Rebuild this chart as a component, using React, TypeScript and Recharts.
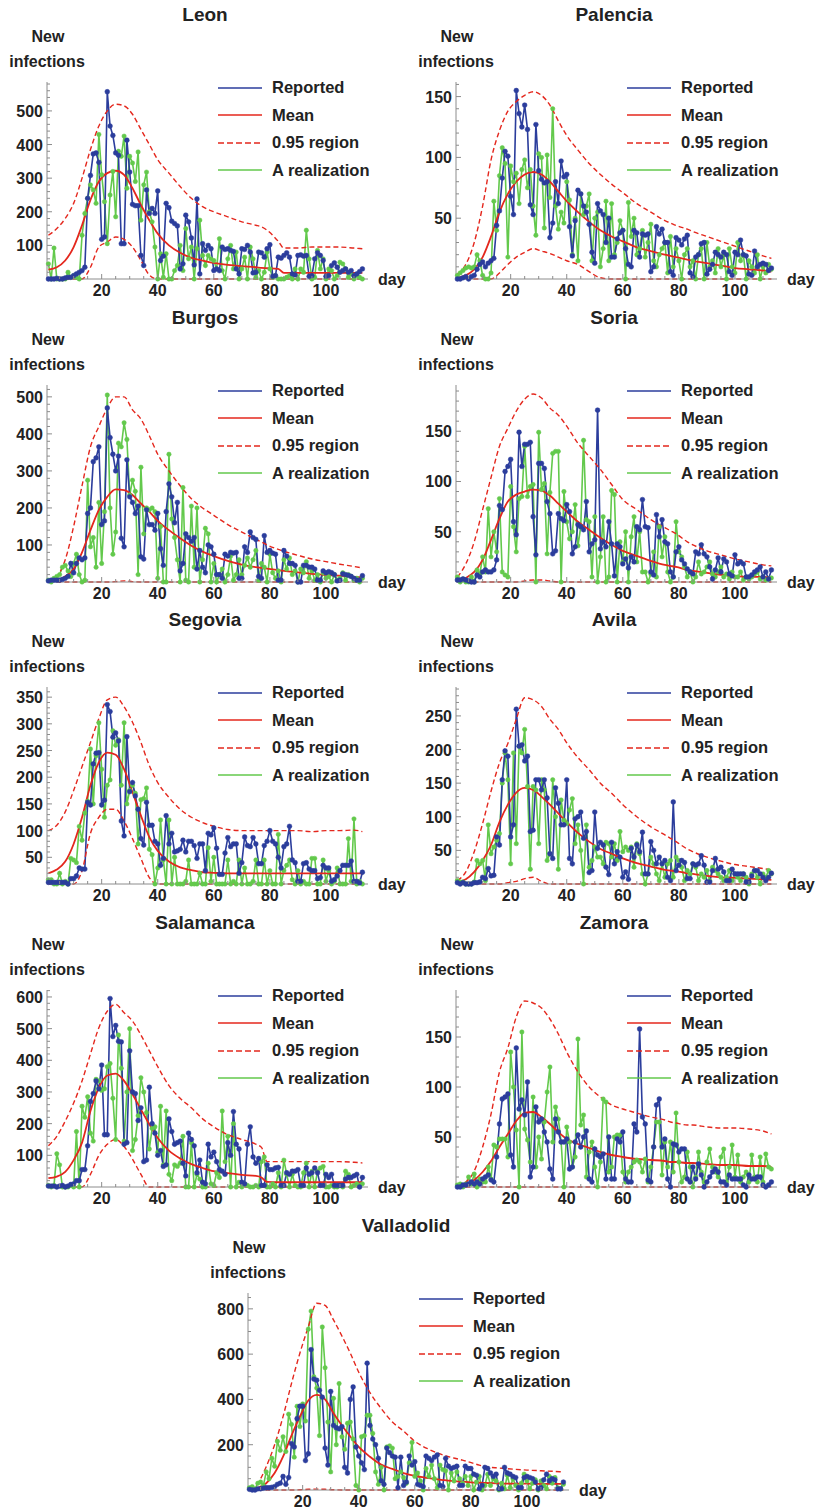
import React from "react";
import { LineChart, Line, XAxis, YAxis, Legend } from "recharts";

const FONT = '"Liberation Sans", Arial, Helvetica, sans-serif';
const BLUE = "#2b3d9c";
const RED = "#e4271d";
const GREEN = "#63c94c";
const AXIS = "#8c8c8c";
const TEXT = "#222222";

// days for the smooth model curves (mean and 0.95 band)
const CURVE_DAYS = [1, 4, 7, 10, 13, 16, 19, 22, 25, 28, 31, 34, 37, 40, 44, 48, 52, 56, 60, 65, 70, 75, 77, 79, 83, 85, 90, 95, 100, 105, 110, 113];
const X_TICKS = [5, 10, 15, 20, 25, 30, 35, 40, 45, 50, 55, 60, 65, 70, 75, 80, 85, 90, 95, 100, 105, 110];

// ---- Leon ----
const LEON_REPORTED = [
  0, 0, 0, 2, 0, 0, 3, 5, 5, 10,
  15, 20, 25, 35, 240, 308, 372, 375, 347, 118,
  125, 557, 455, 427, 375, 368, 105, 105, 413, 318,
  222, 218, 218, 70, 40, 265, 195, 210, 195, 262,
  55, 68, 225, 212, 172, 165, 158, 30, 45, 190,
  170, 122, 42, 238, 15, 105, 85, 100, 90, 25,
  30, 25, 95, 88, 90, 85, 82, 30, 15, 90,
  88, 100, 80, 18, 20, 80, 78, 65, 90, 102,
  8, 10, 65, 62, 70, 78, 65, 15, 12, 70,
  72, 68, 70, 8, 10, 60, 78, 70, 55, 8,
  10, 40, 48, 35, 20, 25, 30, 20, 25, 10,
  15, 22, 30,
];
const LEON_REALIZATION = [
  45, 0, 92, 0, 0, 0, 0, 20, 5, 10,
  5, 0, 130, 195, 240, 280, 265, 225, 430, 310,
  230, 105, 250, 320, 185, 380, 365, 425, 270, 365,
  345, 290, 378, 175, 280, 318, 200, 170, 95, 0,
  75, 5, 75, 0, 0, 25, 40, 100, 25, 150,
  60, 95, 0, 90, 175, 70, 40, 70, 60, 55,
  30, 120, 25, 0, 60, 100, 30, 80, 0, 30,
  65, 0, 95, 60, 5, 25, 0, 20, 80, 30,
  5, 10, 0, 0, 0, 5, 10, 0, 30, 0,
  30, 20, 145, 60, 0, 5, 85, 30, 60, 0,
  30, 25, 0, 10, 50, 45, 30, 5, 15, 0,
  10, 5, 0,
];
const LEON_MEAN = [28, 35, 55, 95, 160, 235, 290, 315, 322, 310, 270, 220, 175, 135, 100, 78, 63, 55, 48, 42, 38, 35, 33, 32, 30, 18, 18, 18, 18, 18, 18, 18];
const LEON_UPPER = [130, 150, 180, 225, 300, 385, 455, 500, 520, 515, 490, 445, 400, 355, 315, 275, 240, 215, 200, 185, 170, 160, 155, 145, 112, 92, 92, 95, 95, 95, 92, 90];
const LEON_LOWER = [0, 0, 0, 0, 0, 35, 95, 110, 125, 118, 95, 55, 12, 0, 0, 0, 0, 0, 0, 0, 0, 0, 0, 0, 0, 0, 0, 0, 0, 0, 0, 0];

// ---- Palencia ----
const PALENCIA_REPORTED = [
  0, 0, 1, 2, 0, 2, 3, 8, 12, 14,
  10, 13, 15, 17, 44, 56, 83, 105, 101, 68,
  53, 155, 136, 125, 143, 123, 61, 53, 127, 89,
  82, 79, 80, 34, 46, 80, 62, 97, 84, 86,
  43, 19, 48, 73, 70, 60, 55, 45, 22, 13,
  62, 56, 53, 30, 50, 18, 18, 33, 38, 40,
  25, 12, 10, 40, 38, 18, 37, 36, 37, 6,
  10, 43, 37, 41, 30, 30, 6, 3, 34, 32,
  28, 33, 36, 5, 2, 18, 20, 29, 30, 4,
  8, 12, 22, 20, 18, 22, 20, 6, 3, 22,
  20, 32, 20, 19, 4, 3, 23, 10, 12, 13,
  12, 7, 9,
];
const PALENCIA_REALIZATION = [
  3, 5, 7, 9, 10, 9, 10, 20, 15, 3,
  0, 0, 5, 64, 40, 85, 108, 95, 18, 93,
  80, 87, 62, 90, 98, 75, 90, 60, 36, 103,
  100, 42, 102, 67, 140, 60, 41, 55, 46, 80,
  65, 20, 50, 15, 70, 53, 60, 70, 15, 50,
  55, 10, 25, 64, 15, 62, 20, 30, 48, 40,
  0, 63, 35, 50, 20, 25, 40, 18, 30, 45,
  15, 10, 20, 25, 30, 5, 35, 10, 25, 15,
  0, 20, 25, 10, 15, 0, 20, 25, 0, 30,
  10, 15, 5, 25, 10, 20, 0, 25, 10, 5,
  30, 15, 20, 0, 15, 10, 5, 20, 0, 10,
  5, 12, 8,
];
const PALENCIA_MEAN = [1, 3, 8, 18, 35, 55, 70, 80, 86, 88, 86, 80, 72, 64, 55, 47, 40, 35, 31, 26, 23, 20, 19, 18, 16, 15, 13, 11, 9, 8, 7, 6];
const PALENCIA_UPPER = [4, 12, 30, 60, 98, 122, 138, 146, 151, 154, 151, 143, 130, 118, 106, 95, 86, 78, 71, 62, 55, 48, 46, 44, 41, 39, 35, 31, 27, 23, 19, 17];
const PALENCIA_LOWER = [0, 0, 0, 0, 0, 5, 12, 18, 22, 25, 23, 21, 18, 15, 12, 6, 1, 0, 0, 0, 0, 0, 0, 0, 0, 0, 0, 0, 0, 0, 0, 0];

// ---- Burgos ----
const BURGOS_REPORTED = [
  3, 5, 5, 5, 5, 7, 10, 15, 50, 25,
  50, 65, 60, 65, 185, 200, 325, 335, 365, 155,
  165, 470, 390, 345, 300, 340, 118, 95, 330, 230,
  215, 185, 205, 68, 62, 195, 155, 155, 140, 185,
  90, 45, 190, 265, 230, 160, 215, 30, 50, 130,
  120, 110, 120, 35, 85, 40, 25, 100, 95, 75,
  20, 20, 10, 75, 70, 80, 78, 80, 10, 10,
  95, 80, 135, 120, 115, 15, 10, 125, 80, 85,
  78, 75, 5, 5, 85, 70, 50, 50, 45, 0,
  0, 45, 45, 40, 40, 35, 5, 5, 30, 25,
  28, 25, 20, 3, 5, 22, 20, 18, 15, 10,
  5, 5, 17,
];
const BURGOS_REALIZATION = [
  5, 0, 10, 15, 20, 40, 45, 30, 15, 50,
  75, 20, 0, 5, 275, 95, 120, 40, 215, 50,
  190, 505, 200, 75, 135, 375, 365, 430, 385, 235,
  275, 245, 20, 310, 130, 200, 195, 200, 190, 10,
  150, 0, 0, 345, 170, 120, 60, 0, 255, 5,
  0, 205, 40, 200, 0, 60, 145, 130, 0, 50,
  0, 20, 35, 0, 20, 70, 5, 20, 60, 20,
  45, 65, 40, 60, 85, 5, 50, 40, 0, 75,
  25, 10, 30, 0, 60, 35, 65, 20, 30, 0,
  35, 25, 55, 10, 30, 5, 20, 0, 25, 10,
  15, 0, 20, 5, 10, 25, 5, 20, 15, 5,
  10, 0, 10,
];
const BURGOS_MEAN = [2, 5, 15, 35, 80, 140, 195, 230, 250, 248, 235, 212, 190, 165, 140, 118, 98, 82, 70, 57, 47, 40, 38, 36, 32, 30, 26, 22, 19, 17, 14, 13];
const BURGOS_UPPER = [3, 15, 60, 150, 260, 365, 420, 470, 500, 500, 465, 440, 395, 345, 300, 260, 225, 200, 180, 155, 135, 115, 108, 100, 88, 83, 72, 62, 55, 48, 42, 38];
const BURGOS_LOWER = [0, 0, 0, 0, 0, 0, 0, 0, 1, 3, 1, 0, 0, 0, 0, 0, 0, 0, 0, 0, 0, 0, 0, 0, 0, 0, 0, 0, 0, 0, 0, 0];

// ---- Soria ----
const SORIA_REPORTED = [
  2, 2, 3, 2, 1, 0, 0, 7, 5, 10,
  12, 10, 10, 12, 22, 76, 72, 110, 115, 122,
  60, 47, 149, 115, 137, 137, 139, 65, 27, 118,
  118, 113, 80, 68, 28, 31, 68, 63, 61, 77,
  70, 28, 35, 57, 55, 52, 80, 30, 38, 42,
  171, 33, 40, 35, 60, 38, 6, 38, 35, 18,
  23, 14, 25, 20, 55, 52, 82, 55, 54, 10,
  7, 67, 45, 62, 40, 38, 10, 5, 30, 35,
  22, 18, 13, 10, 8, 30, 28, 37, 28, 25,
  15, 3, 12, 24, 10, 23, 20, 8, 6, 27,
  18, 20, 18, 5, 5, 7, 10, 12, 15, 5,
  10, 3, 12,
];
const SORIA_REALIZATION = [
  5, 0, 3, 0, 0, 5, 0, 12, 8, 25,
  10, 73, 25, 50, 30, 83, 10, 7, 5, 95,
  55, 30, 83, 85, 135, 85, 95, 97, 0, 149,
  92, 98, 28, 89, 128, 130, 130, 0, 90, 60,
  43, 50, 77, 36, 55, 141, 62, 60, 5, 65,
  0, 25, 65, 0, 5, 91, 87, 0, 40, 20,
  50, 0, 45, 65, 20, 50, 10, 10, 0, 8,
  30, 5, 55, 25, 45, 10, 0, 5, 60, 30,
  25, 15, 5, 10, 0, 5, 20, 8, 10, 15,
  20, 8, 5, 10, 15, 5, 8, 3, 10, 5,
  5, 10, 2, 5, 3, 5, 8, 10, 3, 5,
  2, 3, 4,
];
const SORIA_MEAN = [1, 4, 10, 22, 42, 63, 80, 87, 90, 92, 91, 86, 78, 70, 60, 52, 44, 37, 31, 26, 21, 17, 16, 15, 12, 11, 9, 7, 6, 5, 5, 4];
const SORIA_UPPER = [5, 18, 40, 72, 104, 135, 153, 170, 182, 187, 183, 173, 166, 155, 138, 125, 112, 97, 82, 72, 62, 54, 51, 48, 40, 37, 31, 27, 23, 20, 17, 16];
const SORIA_LOWER = [0, 0, 0, 0, 0, 0, 0, 0, 1, 2, 2, 1, 0, 0, 0, 0, 0, 0, 0, 0, 0, 0, 0, 0, 0, 0, 0, 0, 0, 0, 0, 0];

// ---- Segovia ----
const SEGOVIA_REPORTED = [
  3, 3, 3, 3, 3, 3, 3, 0, 10, 10,
  15, 30, 28, 28, 153, 148, 225, 245, 246, 148,
  157, 336, 323, 275, 283, 268, 118, 90, 276, 173,
  190, 165, 140, 85, 73, 153, 110, 110, 80, 75,
  35, 48, 128, 75, 95, 60, 62, 65, 82, 60,
  80, 80, 72, 48, 75, 75, 25, 95, 92, 105,
  67, 18, 18, 58, 87, 70, 75, 75, 20, 40,
  88, 72, 70, 87, 75, 38, 38, 72, 80, 100,
  80, 75, 50, 30, 70, 75, 108, 45, 40, 5,
  5, 38, 40, 28, 25, 25, 10, 12, 35, 30,
  30, 5, 8, 15, 25, 35, 35, 35, 43, 5,
  5, 2, 22,
];
const SEGOVIA_REALIZATION = [
  8, 8, 0, 0, 20, 0, 5, 0, 48, 45,
  40, 108, 82, 133, 155, 253, 150, 240, 302, 215,
  125, 185, 195, 287, 260, 270, 185, 302, 150, 175,
  185, 170, 75, 158, 160, 180, 65, 55, 0, 30,
  120, 45, 0, 120, 0, 50, 0, 0, 0, 5,
  45, 0, 0, 0, 20, 0, 0, 68, 5, 50,
  0, 0, 0, 0, 45, 0, 5, 0, 45, 0,
  30, 0, 0, 5, 45, 0, 0, 45, 0, 25,
  0, 0, 93, 0, 25, 35, 45, 8, 0, 25,
  0, 5, 0, 0, 48, 48, 0, 0, 45, 5,
  25, 0, 5, 30, 0, 0, 0, 85, 5, 122,
  0, 5, 0,
];
const SEGOVIA_MEAN = [20, 27, 42, 75, 125, 185, 228, 246, 242, 215, 172, 128, 88, 62, 42, 31, 26, 22, 21, 20, 20, 20, 20, 20, 20, 20, 20, 20, 20, 20, 20, 20];
const SEGOVIA_UPPER = [100, 110, 135, 175, 220, 265, 310, 345, 350, 332, 303, 265, 222, 190, 162, 140, 125, 115, 108, 102, 100, 100, 100, 100, 100, 100, 100, 98, 100, 100, 101, 98];
const SEGOVIA_LOWER = [0, 0, 0, 0, 25, 95, 125, 140, 140, 118, 85, 48, 12, 0, 0, 0, 0, 0, 0, 0, 0, 0, 0, 0, 0, 0, 0, 0, 0, 0, 0, 0];

// ---- Avila ----
const AVILA_REPORTED = [
  2, 0, 2, 0, 0, 0, 2, 2, 3, 10,
  8, 23, 12, 13, 70, 58, 155, 198, 190, 70,
  88, 260, 205, 207, 183, 190, 78, 80, 155, 155,
  140, 155, 128, 45, 38, 143, 120, 88, 88, 155,
  38, 30, 97, 100, 107, 68, 78, 17, 20, 107,
  53, 62, 58, 25, 14, 62, 30, 48, 40, 10,
  18, 7, 53, 40, 58, 48, 77, 15, 15, 63,
  50, 30, 40, 30, 35, 10, 5, 122, 20, 28,
  35, 32, 8, 8, 30, 28, 30, 42, 28, 3,
  3, 20, 38, 22, 25, 18, 5, 5, 22, 15,
  15, 15, 15, 3, 3, 12, 20, 20, 15, 10,
  5, 10, 16,
];
const AVILA_REALIZATION = [
  5, 3, 3, 0, 0, 0, 3, 35, 30, 35,
  5, 88, 45, 55, 65, 75, 150, 195, 155, 30,
  195, 60, 205, 195, 230, 145, 22, 145, 140, 60,
  155, 140, 35, 45, 155, 100, 22, 125, 95, 90,
  110, 127, 60, 88, 50, 0, 88, 25, 35, 55,
  40, 40, 30, 62, 60, 40, 60, 35, 78, 48,
  55, 50, 55, 25, 60, 45, 15, 0, 15, 40,
  30, 15, 5, 30, 10, 30, 35, 10, 40, 35,
  25, 5, 20, 15, 30, 25, 5, 15, 10, 20,
  5, 25, 20, 15, 10, 5, 10, 20, 5, 15,
  10, 5, 15, 10, 0, 15, 20, 10, 0, 15,
  10, 20, 15,
];
const AVILA_MEAN = [3, 7, 18, 35, 58, 92, 118, 136, 143, 140, 130, 118, 105, 92, 76, 63, 52, 45, 38, 31, 26, 21, 20, 19, 16, 15, 12, 10, 9, 8, 7, 6];
const AVILA_UPPER = [5, 18, 48, 90, 138, 180, 209, 245, 277, 274, 264, 245, 230, 210, 188, 170, 150, 135, 118, 100, 85, 73, 68, 63, 52, 48, 40, 34, 29, 26, 23, 21];
const AVILA_LOWER = [0, 0, 0, 0, 0, 0, 2, 4, 8, 10, 4, 0, 0, 0, 0, 0, 0, 0, 0, 0, 0, 0, 0, 0, 0, 0, 0, 0, 0, 0, 0, 0];

// ---- Salamanca ----
const SALAMANCA_REPORTED = [
  3, 3, 3, 0, 3, 5, 0, 3, 8, 10,
  20, 20, 55, 55, 130, 270, 295, 335, 310, 385,
  165, 165, 595, 475, 510, 460, 458, 135, 140, 430,
  300, 295, 210, 250, 80, 85, 315, 200, 170, 100,
  115, 65, 70, 215, 175, 135, 140, 145, 75, 35,
  170, 150, 130, 45, 85, 15, 10, 135, 95, 110,
  80, 55, 50, 40, 140, 100, 238, 135, 120, 15,
  10, 135, 190, 95, 75, 90, 5, 5, 70, 55,
  55, 60, 62, 5, 5, 45, 40, 50, 50, 55,
  5, 5, 60, 40, 45, 60, 45, 5, 5, 40,
  30, 40, 5, 5, 5, 5, 25, 30, 30, 35,
  40, 0, 30,
];
const SALAMANCA_REALIZATION = [
  5, 0, 5, 105, 70, 0, 0, 0, 5, 0,
  175, 0, 255, 220, 285, 170, 145, 340, 335, 305,
  310, 380, 390, 280, 150, 480, 375, 145, 300, 500,
  115, 150, 225, 345, 300, 235, 120, 185, 190, 110,
  255, 70, 240, 40, 20, 70, 65, 75, 160, 0,
  0, 140, 0, 40, 25, 0, 0, 75, 10, 5,
  45, 30, 240, 80, 160, 0, 200, 0, 15, 0,
  10, 5, 0, 0, 5, 0, 80, 95, 0, 0,
  10, 0, 45, 0, 85, 40, 0, 40, 5, 0,
  0, 45, 75, 0, 50, 0, 50, 60, 65, 0,
  0, 5, 0, 0, 5, 0, 50, 40, 0, 5,
  10, 5, 10,
];
const SALAMANCA_MEAN = [28, 33, 48, 85, 140, 240, 314, 352, 358, 335, 293, 245, 198, 155, 115, 90, 72, 60, 50, 44, 38, 35, 30, 16, 15, 15, 15, 15, 15, 15, 15, 15];
const SALAMANCA_UPPER = [130, 160, 208, 265, 335, 420, 503, 555, 577, 550, 524, 480, 430, 380, 320, 280, 250, 215, 190, 165, 150, 135, 125, 80, 80, 80, 80, 80, 80, 80, 78, 76];
const SALAMANCA_LOWER = [0, 0, 0, 0, 0, 40, 100, 135, 150, 128, 88, 40, 0, 0, 0, 0, 0, 0, 0, 0, 0, 0, 0, 0, 0, 0, 0, 0, 0, 0, 0, 0];

// ---- Zamora ----
const ZAMORA_REPORTED = [
  0, 0, 2, 2, 3, 5, 3, 5, 3, 8,
  10, 12, 7, 5, 30, 63, 88, 90, 93, 32,
  20, 139, 78, 87, 72, 105, 10, 20, 80, 65,
  68, 55, 45, 18, 8, 68, 55, 45, 45, 48,
  18, 20, 45, 52, 40, 50, 56, 8, 5, 38,
  32, 30, 33, 8, 50, 8, 8, 48, 45, 55,
  8, 5, 5, 63, 55, 158, 70, 63, 7, 5,
  40, 82, 88, 40, 48, 8, 0, 43, 42, 35,
  38, 38, 8, 5, 20, 8, 23, 12, 0, 5,
  10, 15, 18, 15, 5, 5, 2, 12, 8, 8,
  8, 8, 2, 0, 12, 8, 8, 10, 10, 2,
  0, 2, 5,
];
const ZAMORA_REALIZATION = [
  2, 3, 0, 3, 10, 3, 13, 0, 8, 5,
  5, 20, 8, 42, 40, 48, 48, 48, 30, 135,
  100, 57, 0, 155, 58, 47, 25, 90, 20, 50,
  28, 65, 95, 120, 45, 80, 68, 45, 0, 60,
  45, 20, 30, 148, 62, 72, 10, 35, 45, 20,
  0, 25, 88, 85, 15, 20, 50, 52, 52, 15,
  5, 15, 20, 25, 27, 25, 15, 28, 5, 20,
  40, 65, 65, 12, 45, 20, 45, 15, 74, 25,
  5, 10, 35, 20, 0, 10, 35, 15, 5, 25,
  38, 20, 15, 10, 30, 38, 5, 20, 42, 10,
  32, 5, 10, 15, 5, 32, 10, 5, 30, 5,
  33, 20, 18,
];
const ZAMORA_MEAN = [1, 3, 7, 15, 26, 40, 53, 66, 74, 75, 70, 63, 55, 48, 43, 39, 35, 32, 30, 28, 27, 26, 25, 25, 24, 24, 23, 22, 22, 21, 21, 20];
const ZAMORA_UPPER = [2, 5, 16, 40, 73, 115, 139, 170, 186, 184, 179, 168, 153, 135, 115, 100, 90, 82, 78, 74, 70, 67, 65, 64, 62, 62, 60, 59, 59, 58, 56, 53];
const ZAMORA_LOWER = [0, 0, 0, 0, 0, 0, 0, 0, 0, 0, 0, 0, 0, 0, 0, 0, 0, 0, 0, 0, 0, 0, 0, 0, 0, 0, 0, 0, 0, 0, 0, 0];

// ---- Valladolid ----
const VALLADOLID_REPORTED = [
  3, 0, 0, 5, 5, 8, 10, 10, 12, 15,
  25, 30, 60, 25, 55, 205, 190, 315, 370, 370,
  130, 160, 620, 490, 485, 440, 410, 185, 110, 435,
  285, 275, 270, 280, 100, 75, 400, 455, 190, 150,
  120, 90, 560, 285, 225, 200, 140, 40, 25, 185,
  165, 150, 145, 10, 145, 20, 35, 150, 110, 125,
  25, 20, 15, 150, 140, 130, 145, 155, 20, 15,
  140, 105, 95, 100, 105, 20, 20, 105, 95, 95,
  70, 65, 5, 20, 100, 95, 75, 60, 70, 5,
  5, 100, 75, 70, 60, 55, 10, 10, 55, 60,
  55, 50, 35, 5, 10, 45, 70, 40, 50, 45,
  5, 5, 35,
];
const VALLADOLID_REALIZATION = [
  10, 15, 5, 30, 35, 20, 80, 50, 140, 105,
  215, 175, 235, 170, 335, 290, 145, 370, 280, 380,
  305, 710, 790, 500, 450, 240, 720, 540, 300, 80,
  405, 200, 470, 235, 180, 295, 300, 225, 20, 0,
  235, 240, 330, 330, 250, 80, 25, 100, 0, 190,
  195, 185, 50, 60, 80, 55, 30, 120, 210, 60,
  75, 40, 0, 95, 60, 110, 50, 10, 110, 90,
  85, 0, 75, 40, 80, 50, 30, 60, 20, 60,
  0, 35, 60, 0, 20, 70, 20, 50, 40, 0,
  30, 5, 65, 10, 50, 20, 0, 30, 70, 40,
  5, 30, 45, 0, 40, 20, 5, 60, 30, 55,
  10, 5, 25,
];
const VALLADOLID_MEAN = [3, 10, 30, 75, 147, 240, 324, 395, 420, 400, 339, 285, 236, 190, 147, 112, 93, 75, 62, 52, 44, 38, 37, 35, 32, 31, 29, 28, 28, 27, 27, 27];
const VALLADOLID_UPPER = [5, 30, 103, 200, 324, 470, 604, 720, 825, 815, 751, 680, 604, 520, 430, 360, 300, 260, 215, 180, 155, 138, 132, 125, 110, 104, 97, 92, 88, 85, 82, 80];
const VALLADOLID_LOWER = [0, 0, 0, 0, 0, 0, 1, 3, 4, 3, 1, 0, 0, 0, 0, 0, 0, 0, 0, 0, 0, 0, 0, 0, 0, 0, 0, 0, 0, 0, 0, 0];

const LEGEND_ITEMS = [
  { label: "Reported", color: BLUE, dash: undefined as string | undefined },
  { label: "Mean", color: RED, dash: undefined },
  { label: "0.95 region", color: RED, dash: "6 3" },
  { label: "A realization", color: GREEN, dash: undefined },
];

const daily = (vals: number[]) => vals.map((v, i) => ({ day: i + 1, v }));
const curve = (vals: number[]) => vals.map((v, i) => ({ day: CURVE_DAYS[i], v }));

function XTick(props: any) {
  const { x, y, payload } = props;
  const major = payload.value % 20 === 0;
  return (
    <g>
      <line x1={x} x2={x} y1={y} y2={y - (major ? 5 : 3)} stroke={AXIS} strokeWidth={1} />
      {major && (
        <text x={x} y={y + 17} textAnchor="middle" fontSize={16} fontWeight="bold" fill={TEXT} fontFamily={FONT}>
          {payload.value}
        </text>
      )}
    </g>
  );
}

function makeYTick(step: number) {
  return function YTick(props: any) {
    const { x, y, payload } = props;
    const major = Math.abs(payload.value % step) < 1e-6;
    return (
      <g>
        <line x1={x} x2={x + (major ? 5 : 3)} y1={y} y2={y} stroke={AXIS} strokeWidth={1} />
        {major && (
          <text x={x - 4} y={y + 6} textAnchor="end" fontSize={16} fontWeight="bold" fill={TEXT} fontFamily={FONT}>
            {payload.value}
          </text>
        )}
      </g>
    );
  };
}

function LegendBox() {
  return (
    <div style={{ fontFamily: FONT, fontWeight: "bold", fontSize: 16.5, color: TEXT }}>
      {LEGEND_ITEMS.map((it) => (
        <div key={it.label} style={{ height: 27.5, display: "flex", alignItems: "center", whiteSpace: "nowrap" }}>
          <svg width={46} height={6} style={{ marginRight: 9 }}>
            <line x1={1} x2={45} y1={3} y2={3} stroke={it.color} strokeWidth={1.6} strokeDasharray={it.dash} />
          </svg>
          <span>{it.label}</span>
        </div>
      ))}
    </div>
  );
}

interface PanelProps {
  title: string;
  reported: number[];
  realization: number[];
  mean: number[];
  upper: number[];
  lower: number[];
  yMax: number;
  yStep: number;
  yMinor: number;
  left: number;
  top: number;
}

function Panel({ title, reported, realization, mean, upper, lower, yMax, yStep, yMinor, left, top }: PanelProps) {
  const yTicks: number[] = [];
  for (let t = yMinor; t <= yMax; t += yMinor) yTicks.push(t);
  const labelStyle: React.CSSProperties = {
    position: "absolute",
    fontFamily: FONT,
    fontWeight: "bold",
    color: TEXT,
    whiteSpace: "nowrap",
  };
  return (
    <div style={{ position: "absolute", left, top, width: 410, height: 303 }}>
      <LineChart width={410} height={300} margin={{ top: 82, right: 42, bottom: 1, left: 0 }}>
        <XAxis
          type="number"
          dataKey="day"
          domain={[0.5, 115]}
          ticks={X_TICKS}
          interval={0}
          tick={XTick}
          tickLine={false}
          tickSize={0}
          tickMargin={0}
          height={20}
          axisLine={{ stroke: AXIS }}
        />
        <YAxis
          type="number"
          domain={[0, yMax]}
          ticks={yTicks}
          interval={0}
          tick={makeYTick(yStep)}
          tickLine={false}
          tickSize={0}
          tickMargin={0}
          width={47}
          axisLine={{ stroke: AXIS }}
        />
        <Legend
          layout="vertical"
          align="center"
          verticalAlign="middle"
          content={() => <LegendBox />}
          wrapperStyle={{ left: 217, top: 74, width: 193 }}
        />
        <Line
          data={daily(realization)}
          dataKey="v"
          type="linear"
          stroke={GREEN}
          strokeWidth={1.6}
          dot={{ r: 2.2, fill: GREEN, stroke: GREEN, strokeWidth: 0.5 }}
          activeDot={false}
          isAnimationActive={false}
        />
        <Line
          data={daily(reported)}
          dataKey="v"
          type="linear"
          stroke={BLUE}
          strokeWidth={1.6}
          dot={{ r: 2.4, fill: BLUE, stroke: BLUE, strokeWidth: 0.5 }}
          activeDot={false}
          isAnimationActive={false}
        />
        <Line
          data={curve(lower)}
          dataKey="v"
          type="monotone"
          stroke={RED}
          strokeWidth={1.4}
          strokeDasharray="5 3"
          dot={false}
          activeDot={false}
          isAnimationActive={false}
        />
        <Line
          data={curve(upper)}
          dataKey="v"
          type="monotone"
          stroke={RED}
          strokeWidth={1.4}
          strokeDasharray="5 3"
          dot={false}
          activeDot={false}
          isAnimationActive={false}
        />
        <Line
          data={curve(mean)}
          dataKey="v"
          type="monotone"
          stroke={RED}
          strokeWidth={1.8}
          dot={false}
          activeDot={false}
          isAnimationActive={false}
        />
      </LineChart>
      <div style={{ ...labelStyle, left: 0, width: 410, top: 3, textAlign: "center", fontSize: 19, lineHeight: "24px" }}>
        {title}
      </div>
      <div style={{ ...labelStyle, left: -2, width: 100, top: 27, textAlign: "center", fontSize: 16, lineHeight: "20px" }}>
        New
      </div>
      <div style={{ ...labelStyle, left: -3, width: 100, top: 52, textAlign: "center", fontSize: 16, lineHeight: "20px" }}>
        infections
      </div>
      <div style={{ ...labelStyle, left: 378, top: 270, fontSize: 16, lineHeight: "20px" }}>day</div>
    </div>
  );
}

const PANELS: PanelProps[] = [
  { title: "Leon", reported: LEON_REPORTED, realization: LEON_REALIZATION, mean: LEON_MEAN, upper: LEON_UPPER, lower: LEON_LOWER, yMax: 586, yStep: 100, yMinor: 20, left: 0, top: 0 },
  { title: "Palencia", reported: PALENCIA_REPORTED, realization: PALENCIA_REALIZATION, mean: PALENCIA_MEAN, upper: PALENCIA_UPPER, lower: PALENCIA_LOWER, yMax: 162, yStep: 50, yMinor: 10, left: 409, top: 0 },
  { title: "Burgos", reported: BURGOS_REPORTED, realization: BURGOS_REALIZATION, mean: BURGOS_MEAN, upper: BURGOS_UPPER, lower: BURGOS_LOWER, yMax: 532, yStep: 100, yMinor: 20, left: 0, top: 303 },
  { title: "Soria", reported: SORIA_REPORTED, realization: SORIA_REALIZATION, mean: SORIA_MEAN, upper: SORIA_UPPER, lower: SORIA_LOWER, yMax: 196, yStep: 50, yMinor: 10, left: 409, top: 303 },
  { title: "Segovia", reported: SEGOVIA_REPORTED, realization: SEGOVIA_REALIZATION, mean: SEGOVIA_MEAN, upper: SEGOVIA_UPPER, lower: SEGOVIA_LOWER, yMax: 369, yStep: 50, yMinor: 10, left: 0, top: 605 },
  { title: "Avila", reported: AVILA_REPORTED, realization: AVILA_REALIZATION, mean: AVILA_MEAN, upper: AVILA_UPPER, lower: AVILA_LOWER, yMax: 293, yStep: 50, yMinor: 10, left: 409, top: 605 },
  { title: "Salamanca", reported: SALAMANCA_REPORTED, realization: SALAMANCA_REALIZATION, mean: SALAMANCA_MEAN, upper: SALAMANCA_UPPER, lower: SALAMANCA_LOWER, yMax: 622, yStep: 100, yMinor: 20, left: 0, top: 908 },
  { title: "Zamora", reported: ZAMORA_REPORTED, realization: ZAMORA_REALIZATION, mean: ZAMORA_MEAN, upper: ZAMORA_UPPER, lower: ZAMORA_LOWER, yMax: 197, yStep: 50, yMinor: 10, left: 409, top: 908 },
  { title: "Valladolid", reported: VALLADOLID_REPORTED, realization: VALLADOLID_REALIZATION, mean: VALLADOLID_MEAN, upper: VALLADOLID_UPPER, lower: VALLADOLID_LOWER, yMax: 870, yStep: 200, yMinor: 50, left: 201, top: 1211 },
];

export default function App() {
  return (
    <div style={{ position: "absolute", left: 0, top: 0, width: 818, height: 1511, background: "#ffffff", overflow: "hidden" }}>
      {PANELS.map((p) => (
        <Panel key={p.title} {...p} />
      ))}
    </div>
  );
}
